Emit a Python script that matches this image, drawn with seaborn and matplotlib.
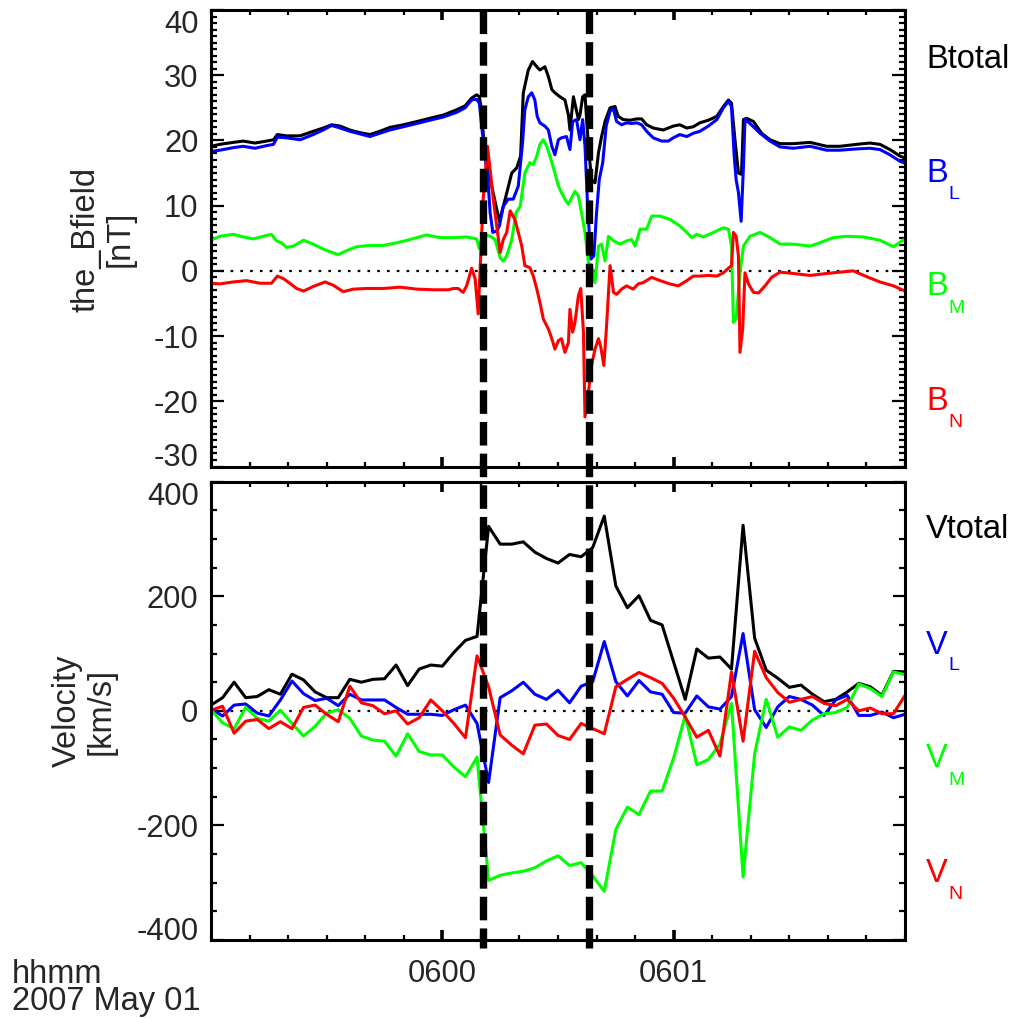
import matplotlib
matplotlib.use("Agg")
import matplotlib.pyplot as plt
import matplotlib.transforms as mtransforms
from matplotlib.lines import Line2D
from matplotlib.ticker import MultipleLocator, FixedLocator, FixedFormatter
import seaborn as sns

# time in seconds relative to 2007-05-01 06:00:00
XLIM = (-60, 120)
MAJOR_T = [0, 60]
TICK_LABELS = ['0600', '0601']
EVENT_T = [10.6, 38.1]

# --- magnetic field (nT)
BTOT_T = [-60.0, -57.7, -54.2, -51.6, -48.6, -45.6, -43.8, -42.8, -40.4, -36.9,
          -33.5, -30.9, -28.7, -26.5, -24.0, -21.4, -18.8, -16.2, -13.6, -10.1,
          -6.6, -3.2, 0.3, 3.7, 5.9, 7.6, 8.9, 9.6, 10.2, 10.6,
          11.5, 12.8, 14.8, 16.3, 18.0, 19.3, 20.3, 21.0, 22.3, 23.4,
          24.5, 25.3, 26.6, 27.5, 28.4, 29.2, 30.5, 31.8, 32.7, 33.1,
          34.0, 35.3, 35.7, 36.4, 37.0, 37.9, 38.7, 39.6, 40.5, 41.3,
          42.2, 43.5, 44.8, 45.6, 46.9, 48.7, 50.4, 51.7, 53.0, 54.7,
          57.3, 59.9, 61.6, 63.4, 65.1, 66.8, 69.0, 71.2, 72.9, 74.2,
          75.0, 75.9, 76.8, 77.6, 78.1, 78.9, 80.7, 82.8, 85.0, 87.6,
          91.0, 95.4, 99.7, 103.1, 107.5, 110.9, 113.5, 116.1, 118.7, 120.0]
BTOT = [19.1, 19.4, 19.7, 19.9, 19.6, 19.9, 20.1, 20.9, 20.7, 20.7,
        21.4, 21.9, 22.4, 22.2, 21.6, 21.2, 20.9, 21.4, 22.0, 22.4,
        22.9, 23.4, 23.9, 24.7, 25.3, 26.5, 27.0, 26.7, 24.5, 21.1,
        17.1, 13.0, 7.6, 11.0, 15.0, 15.8, 17.6, 27.3, 30.8, 32.1,
        31.3, 30.8, 31.3, 29.8, 27.8, 27.3, 26.7, 26.2, 23.9, 21.6,
        26.7, 23.2, 23.9, 26.7, 27.0, 19.1, 14.0, 13.5, 18.1, 20.6,
        22.9, 25.0, 25.2, 23.7, 23.2, 23.1, 23.3, 23.3, 22.4, 21.9,
        21.6, 22.2, 22.4, 21.9, 22.1, 22.7, 23.1, 23.7, 25.2, 26.2,
        25.7, 20.1, 15.0, 14.8, 23.2, 23.4, 22.9, 21.1, 20.1, 19.5,
        19.5, 19.7, 19.1, 19.1, 19.4, 19.6, 19.4, 18.6, 17.6, 17.3]

BL_T = [-60.0, -57.7, -54.2, -51.6, -48.6, -45.6, -43.8, -42.8, -40.4, -36.9,
        -33.5, -30.9, -28.7, -26.5, -24.0, -21.4, -18.8, -16.2, -13.6, -10.1,
        -6.6, -3.2, 0.3, 3.7, 5.9, 7.6, 8.9, 9.6, 10.2, 11.1,
        11.7, 12.4, 13.1, 14.1, 14.8, 15.8, 17.1, 18.4, 19.7, 20.8,
        21.4, 22.3, 23.2, 24.0, 24.6, 25.3, 26.6, 27.5, 28.4, 29.2,
        30.1, 30.9, 32.2, 33.1, 33.8, 34.8, 35.7, 36.4, 37.0, 37.6,
        38.5, 39.3, 40.0, 40.7, 41.6, 42.5, 43.5, 44.4, 45.2, 46.5,
        47.8, 49.1, 50.4, 51.7, 53.0, 54.7, 56.9, 58.6, 59.9, 61.6,
        63.4, 65.1, 66.8, 69.0, 71.2, 72.9, 74.2, 75.0, 75.7, 76.2,
        76.8, 77.5, 78.1, 78.5, 79.8, 82.4, 85.0, 87.6, 91.0, 95.4,
        99.7, 103.1, 107.5, 110.9, 113.5, 116.1, 118.7, 120.0]
BL = [18.3, 18.5, 18.9, 19.1, 18.8, 19.2, 19.4, 20.5, 20.4, 20.1,
      20.9, 21.6, 22.3, 21.9, 21.4, 21.0, 20.6, 21.1, 21.6, 22.1,
      22.6, 23.1, 23.6, 24.3, 25.0, 26.2, 26.3, 25.7, 22.2, 17.1,
      15.0, 8.9, 5.9, 6.1, 6.9, 9.9, 11.0, 11.0, 13.0, 19.6,
      24.7, 26.7, 27.3, 26.2, 23.7, 22.7, 22.2, 21.6, 19.1, 17.8,
      20.1, 20.4, 20.6, 18.6, 22.9, 23.2, 20.1, 23.2, 19.1, 11.0,
      1.8, 2.3, 8.9, 14.0, 16.6, 22.2, 24.5, 24.8, 22.9, 22.4,
      22.7, 22.6, 22.7, 22.4, 21.4, 20.4, 19.9, 19.9, 20.4, 20.9,
      20.6, 21.1, 21.4, 22.2, 23.2, 25.0, 26.0, 25.2, 17.6, 14.0,
      12.0, 7.6, 16.0, 23.2, 22.6, 21.1, 19.9, 19.0, 18.8, 19.1,
      18.5, 18.5, 18.7, 18.8, 18.6, 17.8, 16.8, 16.5]

BM_T = [-60.0, -57.7, -54.2, -51.6, -49.0, -46.4, -44.3, -43.0, -41.7, -40.4,
        -38.6, -36.0, -33.5, -30.0, -27.0, -24.8, -22.2, -18.8, -15.3, -11.8,
        -8.4, -4.1, -0.6, 2.9, 6.3, 8.9, 9.6, 10.5, 12.4, 13.7,
        15.0, 15.8, 16.7, 18.0, 19.1, 20.2, 21.4, 22.7, 23.6, 24.5,
        25.3, 26.2, 27.1, 27.9, 29.2, 30.1, 30.9, 31.8, 32.7, 33.5,
        34.4, 35.3, 36.1, 37.0, 37.9, 38.7, 39.6, 40.5, 41.3, 42.2,
        43.1, 44.4, 46.1, 47.8, 49.1, 50.0, 51.3, 53.0, 54.3, 56.5,
        59.0, 61.6, 63.4, 64.7, 66.0, 67.7, 70.3, 72.9, 74.2, 75.0,
        75.5, 76.2, 77.2, 78.1, 79.8, 82.4, 85.0, 87.6, 91.0, 95.4,
        97.9, 101.4, 104.9, 109.2, 113.5, 117.0, 120.0]
BM = [4.7, 5.3, 5.6, 5.2, 4.9, 5.3, 5.6, 4.6, 4.3, 3.6,
      3.8, 4.7, 4.1, 3.1, 2.5, 3.1, 3.7, 3.9, 3.9, 4.3,
      4.8, 5.5, 5.1, 5.1, 5.2, 4.9, 3.4, 5.6, 5.3, 4.8,
      2.0, 1.5, 2.3, 4.8, 8.9, 9.9, 15.0, 16.6, 16.3, 17.6,
      19.4, 20.1, 19.1, 17.6, 15.0, 13.0, 12.0, 11.0, 10.2, 11.2,
      12.2, 11.5, 8.9, 5.9, 1.3, 0.8, -1.8, 3.8, 4.1, 1.5,
      5.3, 4.6, 4.1, 4.6, 4.8, 3.8, 6.4, 6.4, 8.4, 8.4,
      7.9, 6.9, 5.9, 5.1, 5.6, 5.2, 5.9, 6.6, 6.4, 3.8,
      -7.9, -7.4, -0.3, 3.8, 5.3, 5.9, 5.1, 4.1, 4.1, 3.8,
      4.3, 5.1, 5.3, 5.2, 4.7, 3.7, 4.9]

BN_T = [-60.0, -57.7, -54.2, -50.8, -47.3, -44.3, -42.8, -41.2, -40.0, -37.8,
        -36.0, -33.5, -30.4, -28.3, -25.7, -23.1, -19.6, -15.3, -11.0, -6.6,
        -2.3, 1.6, 2.9, 4.1, 5.4, 6.3, 7.6, 8.5, 9.3, 10.6,
        11.7, 12.5, 13.2, 14.1, 15.0, 15.8, 16.7, 17.6, 18.8, 19.7,
        20.6, 21.4, 22.7, 23.6, 24.5, 25.3, 26.2, 27.5, 28.4, 29.2,
        30.1, 30.9, 31.8, 32.7, 33.1, 33.8, 34.4, 35.3, 35.9, 36.6,
        37.0, 37.9, 38.7, 39.6, 40.5, 41.1, 41.9, 42.6, 43.5, 44.4,
        45.2, 46.5, 47.8, 49.5, 50.8, 52.1, 54.3, 56.5, 59.0, 61.2,
        63.4, 65.1, 66.8, 69.0, 71.2, 72.9, 74.2, 75.0, 75.5, 76.2,
        76.8, 77.2, 77.9, 78.5, 79.4, 80.7, 82.0, 83.7, 85.4, 87.6,
        91.0, 95.4, 99.7, 103.1, 106.6, 110.1, 113.5, 117.0, 120.0]
BN = [-1.9, -2.0, -1.7, -1.5, -1.9, -1.9, -0.8, -1.2, -1.7, -2.7,
      -3.1, -2.4, -1.7, -2.2, -3.2, -2.8, -2.7, -2.7, -2.5, -2.8,
      -2.9, -2.9, -2.7, -2.7, -3.3, -2.3, 0.4, -1.2, -6.6, 11.0,
      19.1, 15.0, 11.0, 6.9, 2.8, 4.8, 5.9, 9.2, 7.9, 5.9,
      3.8, 0.8, 0.5, -0.8, -2.8, -4.8, -7.4, -8.9, -10.4, -12.0,
      -10.7, -10.4, -12.5, -11.0, -5.9, -9.4, -7.9, -3.8, -2.7, -9.4,
      -22.4, -18.6, -14.5, -12.0, -10.4, -11.7, -14.5, -8.4, 0.8, -3.3,
      -3.6, -2.8, -2.3, -2.8, -2.0, -1.8, -1.0, -1.5, -2.0, -2.3,
      -1.5, -0.8, -0.8, -0.7, -0.8, -0.3, 0.4, 0.8, 5.9, 5.3,
      2.3, -12.5, -8.9, -0.3, -2.0, -3.3, -3.4, -2.3, -1.0, -0.2,
      -0.4, -0.7, -0.4, -0.2, 0.0, -0.9, -1.7, -2.3, -3.1]

# --- ion velocity (km/s), one sample per 3 s spin
V_T = [-60, -57, -54, -51, -48, -45, -42, -39, -36, -33,
       -30, -27, -24, -21, -18, -15, -12, -9, -6, -3,
       0, 3, 6, 9, 12, 15, 18, 21, 24, 27,
       30, 33, 36, 39, 42, 45, 48, 51, 54, 57,
       60, 63, 66, 69, 72, 75, 78, 81, 84, 87,
       90, 93, 96, 99, 102, 105, 108, 111, 114, 117, 120]
VTOT = [10, 23, 50, 23, 25, 37, 29, 64, 54, 33,
        23, 23, 55, 50, 55, 56, 80, 44, 73, 80,
        78, 102, 123, 130, 322, 291, 291, 295, 277, 266,
        258, 273, 269, 285, 340, 218, 180, 201, 158, 150,
        85, 20, 108, 92, 94, 73, 324, 127, 71, 57,
        41, 45, 29, 16, 20, 33, 48, 42, 27, 69, 68]
VL = [4, -9, 10, 12, -4, -9, 19, 52, 30, 18,
      22, 9, 29, 19, 19, 19, 6, -6, -6, -6,
      -8, 2, 10, -22, -125, 23, 35, 50, 29, 20,
      36, 14, 43, 51, 121, 51, 26, 53, 33, 29,
      -3, -4, 26, 7, 3, 25, 135, 2, -29, 7,
      25, 20, 10, -8, 19, 27, -8, -8, -2, -12, -6]
VM = [2, -21, -31, 6, -13, -18, 1, -22, -44, -27,
      -4, 2, -13, -44, -51, -53, -79, -40, -71, -77,
      -77, -98, -115, -81, -296, -287, -283, -280, -274, -262,
      -253, -270, -265, -288, -315, -207, -168, -181, -140, -140,
      -82, -8, -94, -85, -58, 13, -290, -75, 20, -46,
      -28, -34, -16, -5, -3, 6, 47, 39, 25, 68, 63]
VN = [1, 8, -39, -18, -15, -31, -19, -31, 6, 10,
      -6, -19, 43, 14, 9, -5, 0, -23, -12, 19,
      0, -22, -47, 96, 42, -42, -60, -75, -25, -23,
      -43, -50, -22, -31, -40, 42, 55, 67, 58, 48,
      22, -11, -46, -34, -79, 68, -53, 104, 58, 32,
      15, 20, 25, 13, 9, 20, 0, 5, -5, -5, 27]

COLORS = {'tot': 'black', 'L': '#0000FF', 'M': '#00FF00', 'N': '#FF0000'}

sns.set_style("ticks")
plt.rcParams['font.family'] = ['Liberation Sans', 'DejaVu Sans']
plt.rcParams['axes.unicode_minus'] = False
FS = 23.5
TICK_FS = 22.3
SUB_FS = 14
LW = 2.2

W, H = 1017, 1019
fig = plt.figure(figsize=(W / 100, H / 100), dpi=100)


def px(x, y):
    return x / W, 1 - y / H


ax_b = fig.add_axes([211 / W, 1 - 466.5 / H, 694 / W, 456.5 / H])
ax_v = fig.add_axes([211 / W, 1 - 940 / H, 694 / W, 458.3 / H], sharex=ax_b)

for ax in (ax_b, ax_v):
    ax.axhline(0, color='black', lw=1.6, ls=(0, (1.2, 3.2)), zorder=1.5)

for t, y, c in [(BTOT_T, BTOT, 'tot'), (BL_T, BL, 'L'), (BM_T, BM, 'M'), (BN_T, BN, 'N')]:
    sns.lineplot(x=t, y=y, ax=ax_b, color=COLORS[c], linewidth=LW,
                 estimator=None, sort=False, legend=False)
for y, c in [(VTOT, 'tot'), (VL, 'L'), (VM, 'M'), (VN, 'N')]:
    sns.lineplot(x=V_T, y=y, ax=ax_v, color=COLORS[c], linewidth=LW,
                 estimator=None, sort=False, legend=False)


def style_axis(ax, ylim, ymajor, yminor, ylen):
    ax.set_xlim(*XLIM)
    ax.set_ylim(*ylim)
    ax.set_xlabel('')
    ax.set_ylabel('')
    ax.yaxis.set_major_locator(MultipleLocator(ymajor))
    ax.yaxis.set_minor_locator(MultipleLocator(yminor))
    ax.xaxis.set_major_locator(FixedLocator(MAJOR_T))
    ax.xaxis.set_major_formatter(FixedFormatter(TICK_LABELS))
    ax.xaxis.set_minor_locator(MultipleLocator(10))
    ax.tick_params(which='both', direction='in', top=True, right=True,
                   color='black', labelsize=TICK_FS, width=1.6)
    ax.tick_params(axis='y', which='major', length=ylen[0], pad=9)
    ax.tick_params(axis='y', which='minor', length=ylen[1])
    ax.tick_params(axis='x', which='major', length=7, width=2.6, pad=14)
    ax.tick_params(axis='x', which='minor', length=3.8)
    for s in ax.spines.values():
        s.set_linewidth(2.2)
        s.set_color('black')


style_axis(ax_b, (-30, 40), 10, 1, (9.4, 4.3))
style_axis(ax_v, (-400, 400), 200, 50, (9.0, 4.3))
ax_b.tick_params(labelbottom=False)

# IDL-style: the end labels of each y axis are pulled inside the panel
fig.canvas.draw()
for ax in (ax_b, ax_v):
    lo, hi = ax.get_ylim()
    for tick, loc in zip(ax.yaxis.get_major_ticks(), ax.yaxis.get_majorticklocs()):
        if abs(loc - hi) < 1e-6:
            tick.label1.set_verticalalignment('top')
        elif abs(loc - lo) < 1e-6:
            tick.label1.set_verticalalignment('baseline')

# event boundaries, dashed across both panels
trans = mtransforms.blended_transform_factory(ax_v.transData, fig.transFigure)
for t in EVENT_T:
    fig.add_artist(Line2D([t, t], [px(0, 10)[1], px(0, 948)[1]], transform=trans,
                          color='black', lw=5.3, linestyle=(0, (3.2, 1.1)), zorder=5))

# y labels
fig.text(*px(86, 239), 'the_Bfield', rotation=90, ha='center', va='center', fontsize=FS)
fig.text(*px(120, 239), '[nT]', rotation=90, ha='center', va='center', fontsize=FS)
fig.text(*px(67, 711), 'Velocity', rotation=90, ha='center', va='center', fontsize=FS)
fig.text(*px(101, 711), '[km/s]', rotation=90, ha='center', va='center', fontsize=FS)

# right-hand labels
fig.text(*px(926, 68), 'Btotal', ha='left', va='baseline', fontsize=FS, color=COLORS['tot'])
fig.text(*px(926, 538), 'Vtotal', ha='left', va='baseline', fontsize=FS, color=COLORS['tot'])
for lead, comp, yb, ys in [('B', 'L', 182, 199), ('B', 'M', 295, 313), ('B', 'N', 410, 427),
                           ('V', 'L', 654, 670), ('V', 'M', 767, 785), ('V', 'N', 882, 899)]:
    fig.text(*px(926, yb), lead, ha='left', va='baseline', fontsize=FS, color=COLORS[comp])
    fig.text(*px(948, ys), comp, ha='left', va='baseline', fontsize=SUB_FS, color=COLORS[comp])

fig.text(*px(12, 983), 'hhmm', ha='left', va='baseline', fontsize=FS)
fig.text(*px(12, 1010), '2007 May 01', ha='left', va='baseline', fontsize=FS)

fig.savefig('out.png', dpi=100)
